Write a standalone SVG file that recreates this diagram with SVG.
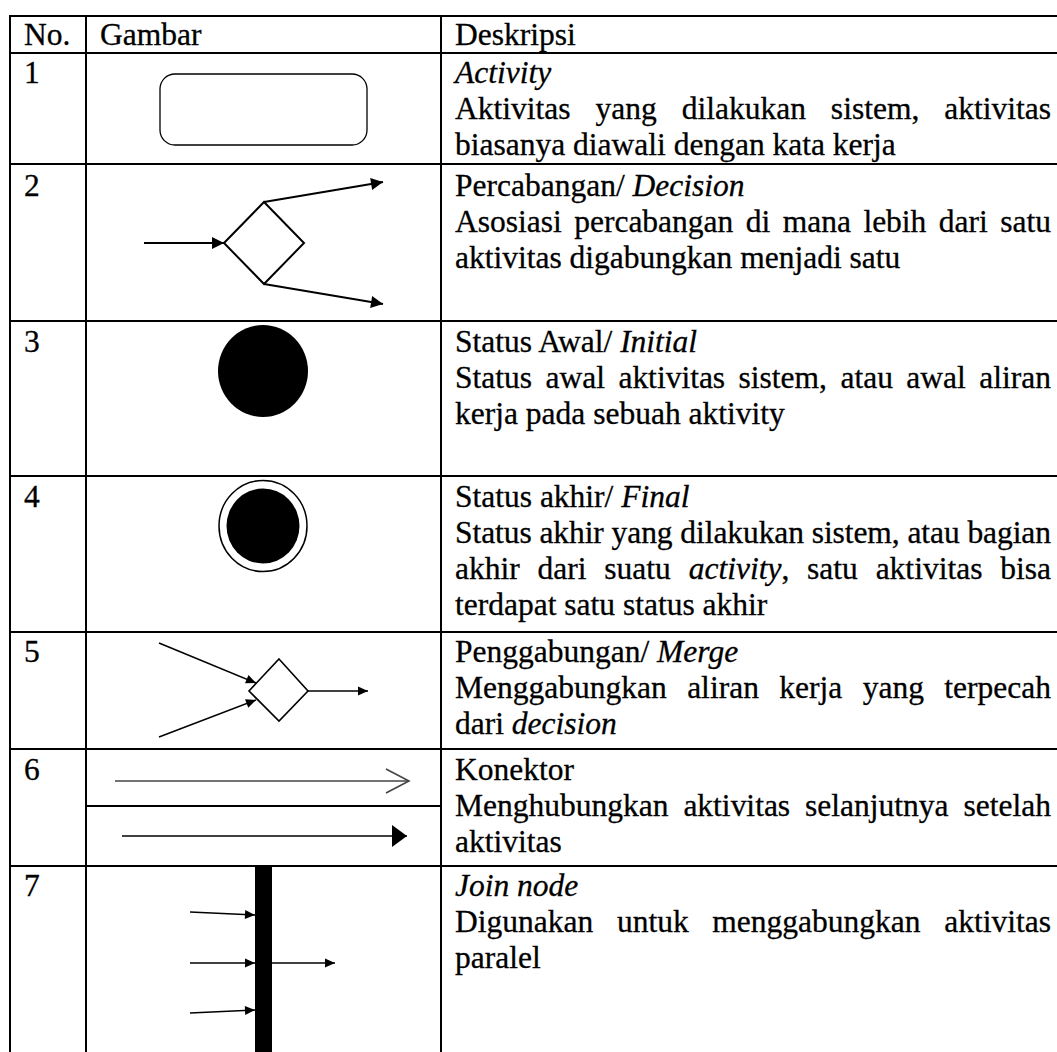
<svg xmlns="http://www.w3.org/2000/svg" width="1057" height="1052" viewBox="0 0 1057 1052">
<style>
.grid{stroke:#000;stroke-width:2;fill:none}
.t{font-family:"Liberation Serif","Times New Roman",serif;font-size:31.5px;fill:#000;stroke:#000;stroke-width:0.3}
.i{font-style:italic}
.thin{stroke:#000;stroke-width:1.3;fill:#fff}
.ln2{stroke:#000;stroke-width:2;fill:none}
.ln15{stroke:#000;stroke-width:1.6;fill:none}
</style>
<defs>
<marker id="ahL" markerUnits="userSpaceOnUse" markerWidth="13" markerHeight="12" refX="12" refY="6" orient="auto" overflow="visible"><path d="M0,0 L12,6 L0,12 z" fill="#000"/></marker>
<marker id="ahS" markerUnits="userSpaceOnUse" markerWidth="11" markerHeight="10" refX="10" refY="4.5" orient="auto" overflow="visible"><path d="M0,0 L10,4.5 L0,9 z" fill="#000"/></marker>
<marker id="ahBig" markerUnits="userSpaceOnUse" markerWidth="16" markerHeight="23" refX="15" refY="11" orient="auto" overflow="visible"><path d="M0,0 L15,11 L0,22 z" fill="#000"/></marker>
<marker id="ahOpen" markerUnits="userSpaceOnUse" markerWidth="26" markerHeight="28" refX="24" refY="13" orient="auto" overflow="visible"><path d="M1,1 L24,13 L1,25" fill="none" stroke="#444" stroke-width="1.6"/></marker>
</defs>

<g id="table">
<path class="grid" d="M9,16H1057 M9,53H1057 M9,164H1057 M9,321H1057 M9,476H1057 M9,632H1057 M9,749H1057 M9,866H1057 M86,806H441 M10,15V1052 M86,15V1052 M441,15V1052"/>
</g>

<g id="header">
<text class="t" x="24" y="45">No.</text>
<text class="t" x="100" y="45">Gambar</text>
<text class="t" x="455" y="45">Deskripsi</text>
</g>

<g id="node-activity">
<rect class="thin" x="160" y="74" width="207" height="71" rx="15"/>
</g>
<g id="node-decision">
<polygon class="ln2" points="224,243 264,202 304,243 264,284"/>
</g>
<g id="node-initial">
<ellipse cx="263" cy="371" rx="45" ry="46" fill="#000"/>
</g>
<g id="node-final">
<ellipse cx="263" cy="526" rx="44" ry="45.5" fill="none" stroke="#000" stroke-width="1.5"/>
<ellipse cx="263" cy="526" rx="36.5" ry="37.5" fill="#000"/>
</g>
<g id="node-merge">
<polygon class="ln15" points="279,659 308,691 279,721 249,691"/>
</g>
<g id="node-join">
<rect x="255" y="866" width="17" height="186" fill="#000"/>
</g>

<g id="connectors">
<line class="ln2" x1="144" y1="243" x2="224" y2="243" marker-end="url(#ahL)"/>
<line class="ln2" x1="264" y1="202" x2="383" y2="182" marker-end="url(#ahL)"/>
<line class="ln2" x1="264" y1="284" x2="383" y2="304" marker-end="url(#ahL)"/>
<line class="ln15" x1="159" y1="643" x2="256" y2="683" marker-end="url(#ahS)"/>
<line class="ln15" x1="159" y1="737" x2="256" y2="700" marker-end="url(#ahS)"/>
<line class="ln15" x1="308" y1="691" x2="368" y2="691" marker-end="url(#ahS)"/>
<line x1="115" y1="781" x2="409" y2="781" stroke="#444" stroke-width="1.6" marker-end="url(#ahOpen)"/>
<line class="ln15" x1="122" y1="836" x2="407" y2="836" marker-end="url(#ahBig)"/>
<line class="ln15" x1="190" y1="912" x2="255" y2="915" marker-end="url(#ahS)"/>
<line class="ln15" x1="190" y1="963" x2="255" y2="963" marker-end="url(#ahS)"/>
<line class="ln15" x1="190" y1="1013" x2="255" y2="1010" marker-end="url(#ahS)"/>
<line class="ln15" x1="272" y1="963" x2="335" y2="963" marker-end="url(#ahS)"/>
</g>

<g id="row1">
<text class="t" x="24" y="83">1</text>
<text class="t i" x="455" y="83">Activity</text>
<text class="t" x="455" y="119" word-spacing="17.1" textLength="596" lengthAdjust="spacing">Aktivitas yang dilakukan sistem, aktivitas</text>
<text class="t" x="455" y="155">biasanya diawali dengan kata kerja</text>
</g>
<g id="row2">
<text class="t" x="24" y="196">2</text>
<text class="t" x="455" y="196">Percabangan/ <tspan class="i">Decision</tspan></text>
<text class="t" x="455" y="232" word-spacing="4.6" textLength="596" lengthAdjust="spacing">Asosiasi percabangan di mana lebih dari satu</text>
<text class="t" x="455" y="268">aktivitas digabungkan menjadi satu</text>
</g>
<g id="row3">
<text class="t" x="24" y="352">3</text>
<text class="t" x="455" y="352">Status Awal/ <tspan class="i">Initial</tspan></text>
<text class="t" x="455" y="388" word-spacing="5.6" textLength="596" lengthAdjust="spacing">Status awal aktivitas sistem, atau awal aliran</text>
<text class="t" x="455" y="424">kerja pada sebuah aktivity</text>
</g>
<g id="row4">
<text class="t" x="24" y="507">4</text>
<text class="t" x="455" y="507">Status akhir/ <tspan class="i">Final</tspan></text>
<text class="t" x="455" y="543" textLength="596" lengthAdjust="spacing">Status akhir yang dilakukan sistem, atau bagian</text>
<text class="t" x="455" y="579" word-spacing="9.9" textLength="596" lengthAdjust="spacing">akhir dari suatu <tspan class="i">activity</tspan>, satu aktivitas bisa</text>
<text class="t" x="455" y="615">terdapat satu status akhir</text>
</g>
<g id="row5">
<text class="t" x="24" y="662">5</text>
<text class="t" x="455" y="662">Penggabungan/ <tspan class="i">Merge</tspan></text>
<text class="t" x="455" y="698" word-spacing="12.5" textLength="596" lengthAdjust="spacing">Menggabungkan aliran kerja yang terpecah</text>
<text class="t" x="455" y="734">dari <tspan class="i">decision</tspan></text>
</g>
<g id="row6">
<text class="t" x="24" y="780">6</text>
<text class="t" x="455" y="780">Konektor</text>
<text class="t" x="455" y="816" word-spacing="7.1" textLength="596" lengthAdjust="spacing">Menghubungkan aktivitas selanjutnya setelah</text>
<text class="t" x="455" y="852">aktivitas</text>
</g>
<g id="row7">
<text class="t" x="24" y="896">7</text>
<text class="t i" x="455" y="896">Join node</text>
<text class="t" x="455" y="932" word-spacing="15.8" textLength="596" lengthAdjust="spacing">Digunakan untuk menggabungkan aktivitas</text>
<text class="t" x="455" y="968">paralel</text>
</g>
</svg>
